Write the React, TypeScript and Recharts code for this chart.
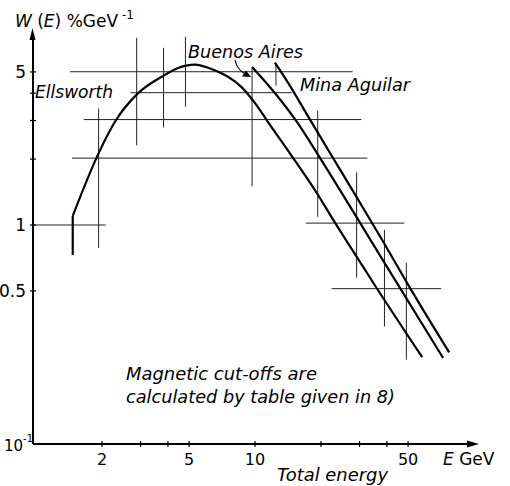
import React from 'react';
import { ComposedChart, Line, XAxis, YAxis, ReferenceLine } from 'recharts';

// Ellsworth curve (E in GeV, W in %/GeV)
const ellsworthE = [1.47, 1.91, 2.31, 2.91, 3.82, 4.42, 5.3, 6.4, 8.7, 10.0, 11.34, 15.53, 19.14, 23.1, 26.5, 35.85, 58.0];
const ellsworthW = [1.1, 2.08, 3.0, 3.98, 4.81, 5.2, 5.4, 5.13, 4.25, 3.6, 3.0, 1.91, 1.4, 1.03, 0.83, 0.517, 0.249];
const ellsworthStubE = [1.47, 1.47];
const ellsworthStubW = [0.73, 1.1];

// Buenos Aires curve
const buenosE = [9.69, 12.21, 15.56, 19.82, 37.24, 72.27];
const buenosW = [5.27, 4.05, 2.95, 2.02, 0.725, 0.247];

// Mina Aguilar curve
const minaE = [12.33, 14.42, 17.41, 22.6, 29.1, 38.2, 50.6, 77.0];
const minaW = [5.51, 4.33, 3.15, 2.04, 1.34, 0.85, 0.523, 0.262];

// Horizontal error bars: value, E from, E to
const hBarW = [1.0, 2.02, 3.03, 4.02, 5.01, 1.02, 0.512];
const hBarFrom = [0.97, 1.46, 1.65, 2.7, 1.43, 17.06, 22.39];
const hBarTo = [2.08, 32.6, 30.6, 14.73, 27.9, 48.1, 70.8];

// Vertical error bars: E, W low, W high
const vBarE = [1.93, 2.88, 3.82, 4.81, 9.69, 12.46, 19.33, 29.1, 39.0, 49.1];
const vBarLow = [0.786, 2.31, 2.79, 3.47, 1.5, 4.33, 1.09, 0.574, 0.344, 0.243];
const vBarHigh = [3.4, 7.15, 6.44, 7.23, 5.23, 5.51, 3.33, 1.74, 0.95, 0.672];

const xTicks = [2, 3, 4, 5, 10, 20, 30, 40, 50];
const xTickLabels = [2, 5, 10, 50];
const yTicks = [0.1, 0.5, 1, 2, 3, 4, 5];
const yTickLabels = [0.5, 1, 5];

const toPts = (es: number[], ws: number[]) => es.map((E, i) => ({ E, v: ws[i] }));

const ellsworth = toPts(ellsworthE, ellsworthW);
const ellsworthStub = toPts(ellsworthStubE, ellsworthStubW);
const buenos = toPts(buenosE, buenosW);
const mina = toPts(minaE, minaW);

const FONT = '"DejaVu Sans", sans-serif';

const XTick = (props: any) => {
  const { x, y, payload } = props;
  const v = payload.value;
  return (
    <g>
      <line x1={x} y1={y - 3} x2={x} y2={y + 3} stroke="#000" strokeWidth={1.2} />
      {xTickLabels.includes(v) && (
        <text x={x} y={y + 21} textAnchor="middle" fontSize={16} fontFamily={FONT} fill="#000">
          {String(v)}
        </text>
      )}
    </g>
  );
};

const YTick = (props: any) => {
  const { x, y, payload } = props;
  const v = payload.value;
  if (v === 0.1) {
    return (
      <text x={4} y={y + 7} fontSize={15} fontFamily={FONT} fill="#000">
        10
        <tspan dy={-9} fontSize={10}>-1</tspan>
      </text>
    );
  }
  return (
    <g>
      <line x1={x - 3} y1={y} x2={x + 3} y2={y} stroke="#000" strokeWidth={1.2} />
      {yTickLabels.includes(v) && (
        <text x={x - 7} y={y + 6} textAnchor="end" fontSize={17} fontFamily={FONT} fill="#000">
          {String(v)}
        </text>
      )}
    </g>
  );
};

const barStroke = '#222';

export default function App() {
  return (
    <div style={{ position: 'fixed', left: 0, top: 0, width: 510, height: 486, background: '#fff' }}>
      <ComposedChart width={510} height={486} margin={{ top: 34, right: 36, bottom: 12, left: 0 }}>
        <XAxis
          dataKey="E"
          type="number"
          scale="log"
          domain={[0.968, 100]}
          allowDataOverflow
          ticks={xTicks}
          interval={0}
          height={30}
          tickSize={0}
          tickMargin={0}
          tickLine={false}
          axisLine={{ stroke: '#000', strokeWidth: 2 }}
          tick={<XTick />}
        />
        <YAxis
          type="number"
          scale="log"
          domain={[0.1, 7.45]}
          allowDataOverflow
          ticks={yTicks}
          interval={0}
          width={33}
          tickSize={0}
          tickMargin={0}
          tickLine={false}
          axisLine={{ stroke: '#000', strokeWidth: 2 }}
          tick={<YTick />}
        />
        {hBarW.map((w, i) => (
          <ReferenceLine
            key={'h' + i}
            segment={[{ x: hBarFrom[i], y: w }, { x: hBarTo[i], y: w }]}
            stroke={barStroke}
            strokeWidth={1}
            ifOverflow="visible"
          />
        ))}
        {vBarE.map((e, i) => (
          <ReferenceLine
            key={'v' + i}
            segment={[{ x: e, y: vBarLow[i] }, { x: e, y: vBarHigh[i] }]}
            stroke={barStroke}
            strokeWidth={1}
            ifOverflow="visible"
          />
        ))}
        <Line data={ellsworthStub} dataKey="v" type="linear" stroke="#000" strokeWidth={2.2} dot={false} activeDot={false} isAnimationActive={false} />
        <Line data={ellsworth} dataKey="v" type="monotone" stroke="#000" strokeWidth={2.2} dot={false} activeDot={false} isAnimationActive={false} />
        <Line data={buenos} dataKey="v" type="monotone" stroke="#000" strokeWidth={2.2} dot={false} activeDot={false} isAnimationActive={false} />
        <Line data={mina} dataKey="v" type="monotone" stroke="#000" strokeWidth={2.2} dot={false} activeDot={false} isAnimationActive={false} />
      </ComposedChart>
      <svg width={510} height={486} style={{ position: 'absolute', left: 0, top: 0, pointerEvents: 'none' }}>
        {/* axis arrows */}
        <polygon points="32.5,28 29.5,40 35.5,40" fill="#000" />
        <line x1={33} y1={34} x2={33} y2={40} stroke="#000" strokeWidth={2} />
        <line x1={472} y1={444} x2={474} y2={444} stroke="#000" strokeWidth={2} />
        <polygon points="479,444 467,440.5 467,447.5" fill="#000" />
        {/* title */}
        <text x={15} y={27} fontSize={17} fontFamily={FONT} fill="#000">
          <tspan fontStyle="italic">W</tspan>
          <tspan> (</tspan>
          <tspan fontStyle="italic">E</tspan>
          <tspan>) %GeV</tspan>
          <tspan dy={-8} fontSize={12}> -1</tspan>
        </text>
        {/* curve labels */}
        <text x={35} y={98} fontSize={17} fontFamily={FONT} fontStyle="italic" textLength={78} lengthAdjust="spacingAndGlyphs" fill="#000">Ellsworth</text>
        <text x={188} y={58} fontSize={17} fontFamily={FONT} fontStyle="italic" textLength={115} lengthAdjust="spacingAndGlyphs" fill="#000">Buenos Aires</text>
        <text x={300} y={91} fontSize={17} fontFamily={FONT} fontStyle="italic" textLength={110} lengthAdjust="spacingAndGlyphs" fill="#000">Mina Aguilar</text>
        {/* pointer arrow */}
        <path d="M235,60 Q237,70 247,75" fill="none" stroke="#000" strokeWidth={1.2} />
        <polygon points="251,77 242,76.5 246,70.5" fill="#000" />
        {/* note */}
        <text x={126} y={380} fontSize={17} fontFamily={FONT} fontStyle="italic" textLength={191} lengthAdjust="spacingAndGlyphs" fill="#000">Magnetic cut-offs are</text>
        <text x={126} y={403} fontSize={17} fontFamily={FONT} fontStyle="italic" textLength={269} lengthAdjust="spacingAndGlyphs" fill="#000">calculated by table given in 8)</text>
        {/* axis titles */}
        <text x={443} y={465} fontSize={17} fontFamily={FONT} fill="#000">
          <tspan fontStyle="italic">E</tspan>
          <tspan> GeV</tspan>
        </text>
        <text x={277} y={481} fontSize={17} fontFamily={FONT} fontStyle="italic" textLength={111} lengthAdjust="spacingAndGlyphs" fill="#000">Total energy</text>
      </svg>
    </div>
  );
}
